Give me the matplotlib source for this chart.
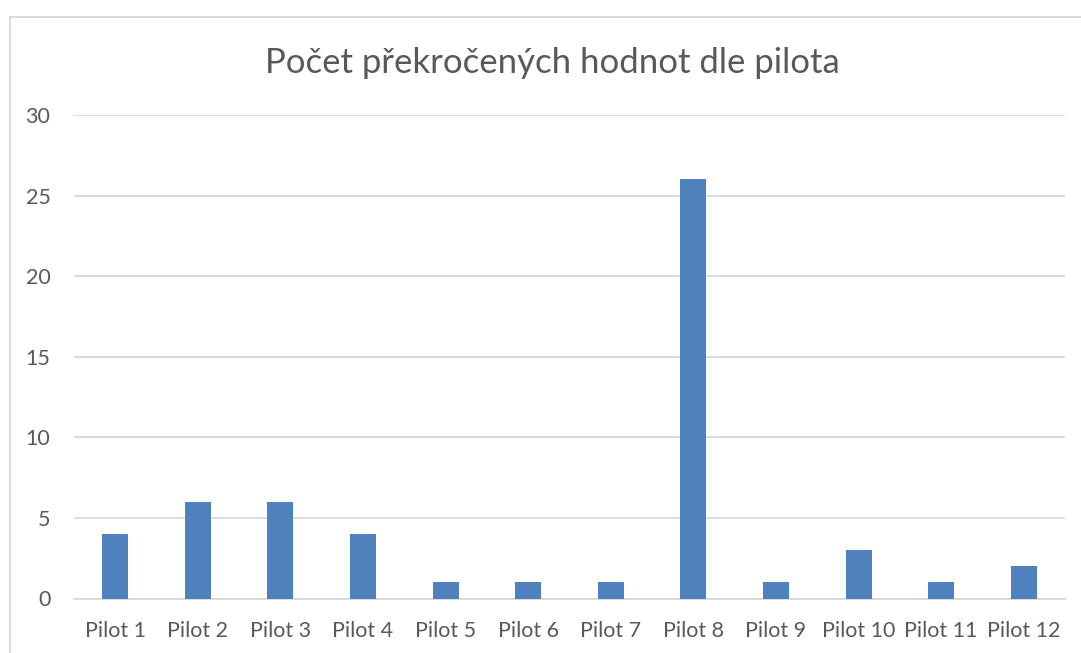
import matplotlib
matplotlib.use("Agg")
import matplotlib.pyplot as plt
from matplotlib.lines import Line2D

# data
pilots = ["Pilot 1", "Pilot 2", "Pilot 3", "Pilot 4", "Pilot 5", "Pilot 6",
          "Pilot 7", "Pilot 8", "Pilot 9", "Pilot 10", "Pilot 11", "Pilot 12"]
counts = [4, 6, 6, 4, 1, 1, 1, 26, 1, 3, 1, 2]
yticks = [0, 5, 10, 15, 20, 25, 30]
title = "Počet překročených hodnot dle pilota"

plt.rcParams['font.family'] = ['Lato', 'DejaVu Sans']
text_color = "#595959"
frame_color = "#D9D9D9"

W, H = 1081, 653
fig = plt.figure(figsize=(W / 100, H / 100), dpi=100)
# axes placed by pixel positions of the plot area
left, right, top, bottom = 74, 1065, 115, 598.5
ax = fig.add_axes([left / W, 1 - bottom / H, (right - left) / W, (bottom - top) / H])

x = range(len(pilots))
ax.bar(x, counts, width=0.315, color="#4F81BD", zorder=3)

ax.set_xlim(-0.5, len(pilots) - 0.5)
ax.set_ylim(0, 30)
ax.set_yticks(yticks)
ax.set_xticks(list(x))
ax.set_xticklabels(pilots)
ax.yaxis.grid(True, color=frame_color, linewidth=1.3, zorder=0)
ax.set_axisbelow(True)
for s in ["top", "right", "left"]:
    ax.spines[s].set_visible(False)
ax.spines["bottom"].set_color(frame_color)
ax.spines["bottom"].set_linewidth(1.3)
ax.tick_params(axis="both", length=0, labelsize=15.5, colors=text_color)
ax.tick_params(axis="y", pad=17)
ax.tick_params(axis="x", pad=16)

fig.text(552 / W, 1 - 63 / H, title, ha="center", va="center",
         fontsize=25, color=text_color)

# chart frame, only left and top edges are visible in the original
fx, fy = 9.5 / W, 1 - 16.5 / H
fig.add_artist(Line2D([fx, fx], [0, fy], transform=fig.transFigure,
                      color=frame_color, linewidth=1.3))
fig.add_artist(Line2D([fx, 1], [fy, fy], transform=fig.transFigure,
                      color=frame_color, linewidth=1.3))

fig.savefig("out.png", dpi=100)
